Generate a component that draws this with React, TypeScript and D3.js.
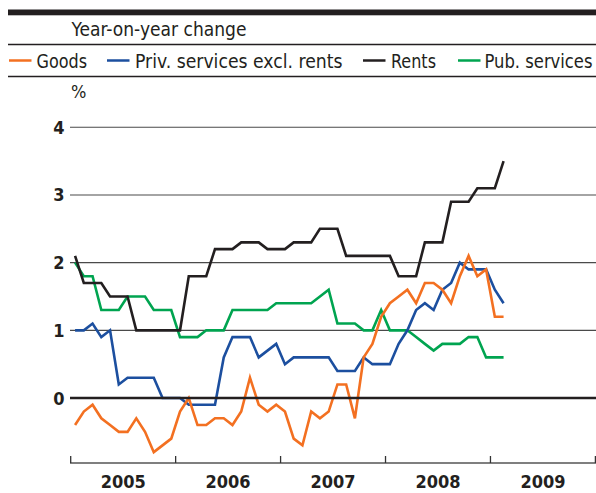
import React from "react";
import * as d3 from "d3";

const W = 596;
const H = 493;

const yearLabels = ["2005", "2006", "2007", "2008", "2009"];
const yTicks = [0, 1, 2, 3, 4];

const goods = [
  -0.4, -0.2, -0.1, -0.3, -0.4, -0.5, -0.5, -0.3, -0.5, -0.8, -0.7, -0.6,
  -0.2, 0, -0.4, -0.4, -0.3, -0.3, -0.4, -0.2, 0.3, -0.1, -0.2, -0.1,
  -0.2, -0.6, -0.7, -0.2, -0.3, -0.2, 0.2, 0.2, -0.3, 0.6, 0.8, 1.2,
  1.4, 1.5, 1.6, 1.4, 1.7, 1.7, 1.6, 1.4, 1.8, 2.1, 1.8, 1.9,
  1.2, 1.2,
];
const privServices = [
  1.0, 1.0, 1.1, 0.9, 1.0, 0.2, 0.3, 0.3, 0.3, 0.3, 0, 0,
  0, -0.1, -0.1, -0.1, -0.1, 0.6, 0.9, 0.9, 0.9, 0.6, 0.7, 0.8,
  0.5, 0.6, 0.6, 0.6, 0.6, 0.6, 0.4, 0.4, 0.4, 0.6, 0.5, 0.5,
  0.5, 0.8, 1.0, 1.3, 1.4, 1.3, 1.6, 1.7, 2.0, 1.9, 1.9, 1.9,
  1.6, 1.4,
];
const rents = [
  2.1, 1.7, 1.7, 1.7, 1.5, 1.5, 1.5, 1.0, 1.0, 1.0, 1.0, 1.0,
  1.0, 1.8, 1.8, 1.8, 2.2, 2.2, 2.2, 2.3, 2.3, 2.3, 2.2, 2.2,
  2.2, 2.3, 2.3, 2.3, 2.5, 2.5, 2.5, 2.1, 2.1, 2.1, 2.1, 2.1,
  2.1, 1.8, 1.8, 1.8, 2.3, 2.3, 2.3, 2.9, 2.9, 2.9, 3.1, 3.1,
  3.1, 3.5,
];
const pubServices = [
  2.0, 1.8, 1.8, 1.3, 1.3, 1.3, 1.5, 1.5, 1.5, 1.3, 1.3, 1.3,
  0.9, 0.9, 0.9, 1.0, 1.0, 1.0, 1.3, 1.3, 1.3, 1.3, 1.3, 1.4,
  1.4, 1.4, 1.4, 1.4, 1.5, 1.6, 1.1, 1.1, 1.1, 1.0, 1.0, 1.3,
  1.0, 1.0, 1.0, 0.9, 0.8, 0.7, 0.8, 0.8, 0.8, 0.9, 0.9, 0.6,
  0.6, 0.6,
];

const seriesNames = ["Goods", "Priv. services excl. rents", "Rents", "Pub. services"];
const seriesColors = ["#f37021", "#1c4f9f", "#231f20", "#00a450"];
const seriesData = [goods, privServices, rents, pubServices];

const FONT = "'DejaVu Sans Condensed', 'DejaVu Sans', sans-serif";

export default function App() {
  const x = d3.scaleLinear().domain([0, 60]).range([70.7, 595.4]);
  const y = d3.scaleLinear().domain([0, 4]).range([398, 127.3]);

  const line = d3
    .line<number>()
    .x((_, i) => x(i + 0.5))
    .y((d) => y(d));

  const drawOrder = [3, 2, 1, 0];
  const legendX = [
    { sw: 9, tx: 36.5, w: 50.5 },
    { sw: 107, tx: 135, w: 207.5 },
    { sw: 363, tx: 391, w: 45 },
    { sw: 458, tx: 484.5, w: 108 },
  ];

  return (
    <svg
      width={W}
      height={H}
      style={{ position: "absolute", left: 0, top: 0, background: "#fff" }}
      fontFamily={FONT}
    >
      {/* header */}
      <rect x={8} y={9.5} width={W - 8} height={5.8} fill="#231f20" />
      <text
        x={71.5}
        y={36}
        fontSize={19}
        fill="#231f20"
        textLength={175}
        lengthAdjust="spacingAndGlyphs"
        style={{ fontStretch: "condensed" }}
      >
        Year-on-year change
      </text>
      <line x1={8} x2={W} y1={44.5} y2={44.5} stroke="#231f20" strokeWidth={1.3} />
      {seriesNames.map((name, k) => (
        <g key={name}>
          <line
            x1={legendX[k].sw}
            x2={legendX[k].sw + 22.5}
            y1={60.5}
            y2={60.5}
            stroke={seriesColors[k]}
            strokeWidth={2.5}
          />
          <text
            x={legendX[k].tx}
            y={68}
            fontSize={19}
            fill="#231f20"
            textLength={legendX[k].w}
            lengthAdjust="spacingAndGlyphs"
            style={{ fontStretch: "condensed" }}
          >
            {name}
          </text>
        </g>
      ))}
      <line x1={8} x2={W} y1={76.5} y2={76.5} stroke="#231f20" strokeWidth={1.3} />
      <text x={71} y={98} fontSize={18} fill="#231f20" style={{ fontStretch: "condensed" }}>
        %
      </text>

      {/* grid */}
      {yTicks.map((t) => (
        <g key={t}>
          {t !== 0 && (
            <line x1={70} x2={W} y1={y(t)} y2={y(t)} stroke="#4a4a4a" strokeWidth={1.1} />
          )}
          <text
            x={64.5}
            y={y(t) + 6.5}
            textAnchor="end"
            fontSize={18}
            fontWeight="bold"
            fill="#231f20"
            style={{ fontStretch: "condensed" }}
          >
            {t}
          </text>
        </g>
      ))}

      {/* x axis */}
      <line x1={70} x2={W} y1={463} y2={463} stroke="#555" strokeWidth={1.5} />
      {d3.range(0, 61, 12).map((m) => (
        <line key={m} x1={x(m)} x2={x(m)} y1={456} y2={463} stroke="#333" strokeWidth={1.3} />
      ))}
      {yearLabels.map((lab, k) => (
        <text
          key={lab}
          x={x(k * 12 + 6)}
          y={488}
          textAnchor="middle"
          fontSize={18}
          fontWeight="bold"
          fill="#231f20"
          style={{ fontStretch: "condensed" }}
        >
          {lab}
        </text>
      ))}

      {/* series */}
      {drawOrder.map((k) => (
        <path
          key={seriesNames[k]}
          d={line(seriesData[k]) || ""}
          fill="none"
          stroke={seriesColors[k]}
          strokeWidth={2.6}
          strokeLinejoin="miter"
        />
      ))}

      {/* zero line */}
      <line x1={70} x2={W} y1={y(0)} y2={y(0)} stroke="#231f20" strokeWidth={2.4} />
    </svg>
  );
}
